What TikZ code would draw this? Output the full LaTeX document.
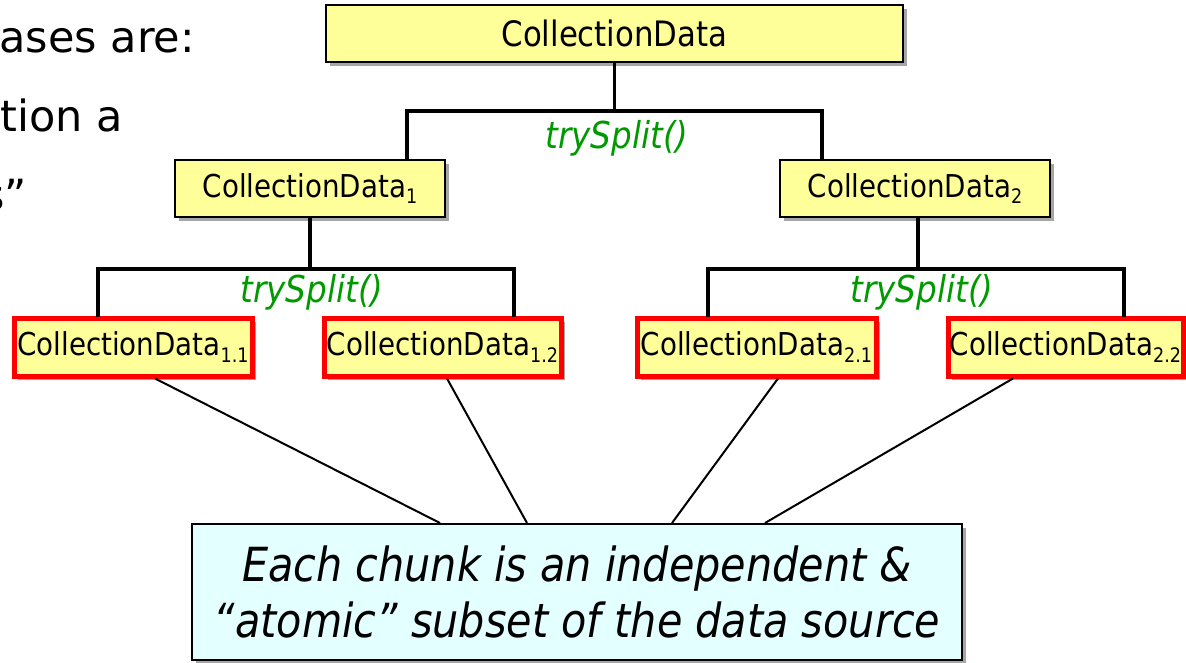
\documentclass[tikz,border=0pt]{standalone}
\usepackage{fontspec}
\setmainfont{DejaVu Sans}[FakeStretch=0.88]
\newfontfamily\plainfont{DejaVu Sans}
\usetikzlibrary{shadows}
\definecolor{boxyellow}{HTML}{FFFF99}
\definecolor{boxcyan}{HTML}{E3FFFF}
\definecolor{splitgreen}{HTML}{009900}
\newcommand{\mysub}[1]{\raisebox{-0.22em}{\fontsize{20}{20}\selectfont #1}}
\tikzset{
  myshadow/.style={drop shadow={shadow xshift=4pt,shadow yshift=-4pt,fill=black,opacity=0.35}},
  databox/.style={draw=black, line width=2pt, fill=boxyellow, minimum height=57pt,
    inner sep=0pt, font=\fontsize{31.5}{31.5}\selectfont, myshadow},
  leafbox/.style={databox, draw=red, line width=5pt, minimum height=58pt},
  notebox/.style={draw=black, line width=2pt, fill=boxcyan, inner sep=0pt, align=center,
    font=\fontsize{47}{56}\selectfont\itshape, myshadow},
  splitlabel/.style={text=splitgreen, font=\fontsize{37}{37}\selectfont\itshape, inner sep=0pt},
  tree/.style={line width=3.5pt, line cap=rect},
  link/.style={line width=2pt},
  slidetext/.style={font=\plainfont\fontsize{43}{43}\selectfont, inner sep=0pt, anchor=base east}
}
\begin{document}
\begin{tikzpicture}[x=1pt,y=-1pt]
\useasboundingbox (0,0) rectangle (1186,663);
\begin{scope}
\clip (0,0) rectangle (1186,663);
\node[slidetext] (s1) at (195,53) {ases are:};
\node[slidetext] (s2) at (123,132) {tion a};
\node[slidetext] (s3) at (27,211) {s”};
\end{scope}

\node[databox, minimum width=577pt, font=\fontsize{35}{35}\selectfont] (top) at (614.5,33.5) {CollectionData};
\node[databox, minimum width=270pt] (c1) at (310,188.5) {CollectionData\mysub{1}};
\node[databox, minimum width=270pt] (c2) at (915,188.5) {CollectionData\mysub{2}};

\node[leafbox, minimum width=238pt] (l11) at (133,347) {CollectionData\mysub{1.1}};
\node[leafbox, minimum width=237pt] (l12) at (442.5,347) {CollectionData\mysub{1.2}};
\node[leafbox, minimum width=239pt] (l21) at (756.5,347) {CollectionData\mysub{2.1}};
\node[leafbox, minimum width=235pt] (l22) at (1065.5,347) {CollectionData\mysub{2.2}};

\node[notebox, minimum width=770pt, minimum height=136pt] (note) at (577,592)
  {Each chunk is an independent \&\\“atomic” subset of the data source};

\node[splitlabel] (t0) at (617,138) {trySplit()};
\node[splitlabel] (t1) at (312,292) {trySplit()};
\node[splitlabel] (t2) at (922,292) {trySplit()};

% first split
\draw[tree] (top.south) -- ++(0,48) -| ([xshift=97pt]c1.north);
\draw[tree] (top.south) -- ++(0,48) -| ([xshift=-93pt]c2.north);
% second split, left
\draw[tree] (c1.south) -- ++(0,51) -| ([xshift=-35pt]l11.north);
\draw[tree] (c1.south) -- ++(0,51) -| ([xshift=71.5pt]l12.north);
% second split, right
\draw[tree] ([xshift=3pt]c2.south) -- ++(0,51) -| ([xshift=-48.5pt]l21.north);
\draw[tree] ([xshift=3pt]c2.south) -- ++(0,51) -| ([xshift=58.5pt]l22.north);

% links to note
\draw[link] ([xshift=22pt]l11.south) -- ([xshift=-137pt]note.north);
\draw[link] ([xshift=4.5pt]l12.south) -- ([xshift=-50pt]note.north);
\draw[link] ([xshift=21.5pt]l21.south) -- ([xshift=95pt]note.north);
\draw[link] ([xshift=-52.5pt]l22.south) -- ([xshift=188pt]note.north);
\end{tikzpicture}
\end{document}
